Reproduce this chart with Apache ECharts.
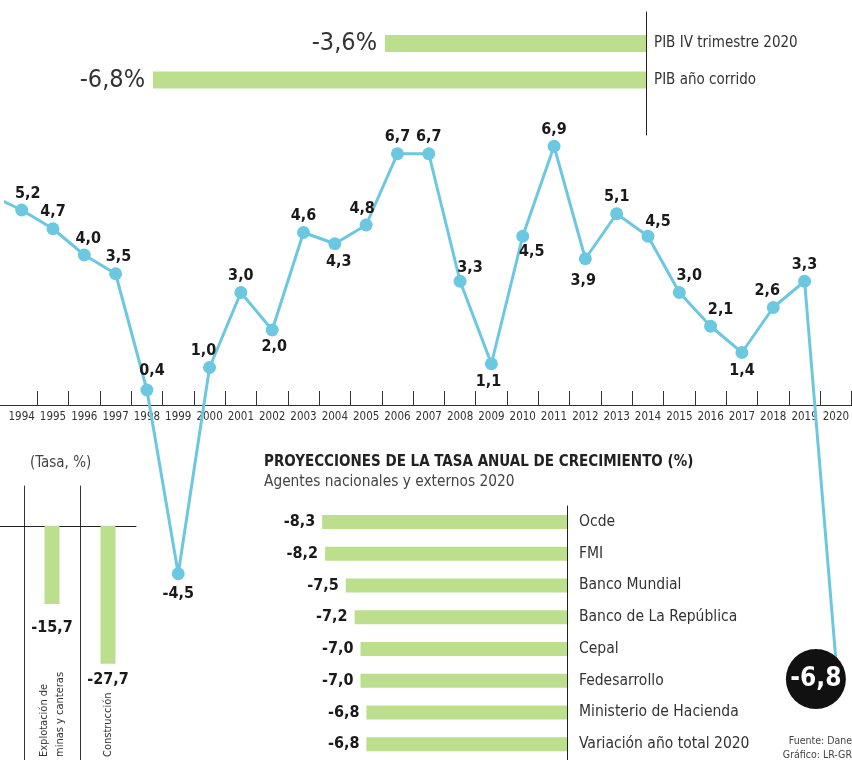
<!DOCTYPE html>
<html>
<head>
<meta charset="utf-8">
<script src="https://cdn.jsdelivr.net/npm/echarts@6/dist/echarts.min.js"></script>
<style>
  html, body { margin: 0; padding: 0; background: #fff; }
  #chart { width: 852px; height: 760px; }
</style>
</head>
<body>
<div id="chart"></div>
<script>
// Crecimiento anual del PIB (%); 1993 queda fuera del borde izquierdo
const years = ['1993', '1994', '1995', '1996', '1997', '1998', '1999', '2000', '2001', '2002',
  '2003', '2004', '2005', '2006', '2007', '2008', '2009', '2010', '2011', '2012', '2013',
  '2014', '2015', '2016', '2017', '2018', '2019', '2020'];
const gdpGrowth = [5.6, 5.2, 4.7, 4.0, 3.5, 0.4, -4.5, 1.0, 3.0, 2.0, 4.6, 4.3, 4.8, 6.7, 6.7,
  3.3, 1.1, 4.5, 6.9, 3.9, 5.1, 4.5, 3.0, 2.1, 1.4, 2.6, 3.3, -6.8];
const yearTicks = years.slice(1);

// PIB 2020
const pibNames = ['PIB IV trimestre 2020', 'PIB año corrido'];
const pibValues = [-3.6, -6.8];

// Proyecciones 2020
const agents = ['Ocde', 'FMI', 'Banco Mundial', 'Banco de La República', 'Cepal',
  'Fedesarrollo', 'Ministerio de Hacienda', 'Variación año total 2020'];
const projections = [-8.3, -8.2, -7.5, -7.2, -7.0, -7.0, -6.8, -6.8];

// Sectores (Tasa, %)
const sectors = ['Explotación de\nminas y canteras', 'Construcción'];
const sectorValues = [-15.7, -27.7];

const FONT = "'Liberation Sans Narrow', 'DejaVu Sans Condensed', sans-serif";
const LINE = '#6cc8e0';
const GREEN = '#bcdf8d';
const INK = '#1a1a1a';

const comma = v => v.toFixed(1).replace('.', ',');

// where each point's label sits: [position, dx, dy]
const labelPlace = {
  '1994': ['top', 6, 0], '1995': ['top', 0, 0], '1996': ['top', 4, 0], '1997': ['top', 3, 0],
  '1998': ['top', 5, -3], '1999': ['bottom', 0, 2], '2000': ['top', -6, 0], '2001': ['top', 0, 0],
  '2002': ['bottom', 2, -2], '2003': ['top', 0, 0], '2004': ['bottom', 4, 0], '2005': ['top', -4, 0],
  '2006': ['top', 0, 0], '2007': ['top', 0, 0], '2008': ['top', 10, 3], '2009': ['bottom', -3, 0],
  '2010': ['bottom', 9, -3], '2011': ['top', 0, 0], '2012': ['bottom', -2, 4], '2013': ['top', 0, 0],
  '2014': ['top', 10, 2], '2015': ['top', 10, 0], '2016': ['top', 10, 0], '2017': ['bottom', 0, 0],
  '2018': ['top', -6, 0], '2019': ['top', 0, 0]
};

const lineData = gdpGrowth.map((v, i) => {
  const y = years[i];
  const pt = [Number(y), v];
  if (y === '1993') {
    return { value: pt, symbolSize: 0, label: { show: false } };
  }
  if (y === '2020') {
    return {
      value: pt,
      symbolSize: 60,
      symbolOffset: [-20, 19],
      itemStyle: { color: '#111111' },
      label: { position: 'inside', color: '#ffffff', fontSize: 26, fontWeight: 'bold' }
    };
  }
  const p = labelPlace[y];
  return {
    value: pt,
    label: { position: p[0], offset: [p[1], p[2]], distance: p[0] === 'top' ? 2 : 4 }
  };
});

// gap between each sector bar and its value label
const sectorLabelGap = [16, 8];

const hiddenAxis = {
  axisLine: { show: false }, axisTick: { show: false }, axisLabel: { show: false }, splitLine: { show: false }
};

const chart = echarts.init(document.getElementById('chart'));

chart.setOption({
  animation: false,
  backgroundColor: '#ffffff',
  textStyle: { fontFamily: FONT },
  title: [
    {
      text: 'PROYECCIONES DE LA TASA ANUAL DE CRECIMIENTO (%)',
      subtext: 'Agentes nacionales y externos 2020',
      left: 264, top: 455, padding: 0, itemGap: 5,
      textStyle: { fontFamily: FONT, fontSize: 15, fontWeight: 'bold', color: '#222' },
      subtextStyle: { fontFamily: FONT, fontSize: 15.3, color: '#444' }
    },
    {
      text: '(Tasa, %)',
      left: 30, top: 456, padding: 0,
      textStyle: { fontFamily: FONT, fontSize: 15, fontWeight: 'normal', color: '#444' }
    },
    {
      text: 'Fuente: Dane',
      right: 0, top: 736, padding: 0,
      textStyle: { fontFamily: FONT, fontSize: 10.5, fontWeight: 'normal', color: '#444' }
    },
    {
      text: 'Gráfico: LR-GR',
      right: 0, top: 750, padding: 0,
      textStyle: { fontFamily: FONT, fontSize: 10.5, fontWeight: 'normal', color: '#444' }
    }
  ],
  grid: [
    { left: 6, width: 848, top: 105, height: 300 },                 // 0: serie del PIB (base en cero)
    { left: 66, right: 206, top: 25.25, height: 73 },                // 1: PIB 2020
    { left: 272, right: 285, top: 506, height: 254.4 },              // 2: proyecciones
    { left: 24, width: 112, top: 486, height: 274 },                 // 3: sectores
    { left: 646, width: 1, top: 12, height: 123 },                   // 4: regla vertical del PIB
    { left: 0, width: 24, top: 486, height: 274 },                   // 5: prolongación de la línea cero
    { left: 0, width: 6, top: 105, height: 300 }                     // 6: prolongación del eje de años
  ],
  xAxis: [
    {
      gridIndex: 0, type: 'category', data: yearTicks, boundaryGap: true, position: 'bottom',
      axisLine: { onZero: false, lineStyle: { color: '#333', width: 1.2 } },
      axisTick: { show: true, inside: true, length: 14, interval: i => i >= 1, lineStyle: { color: '#333' } },
      axisLabel: { interval: 0, fontSize: 11.5, color: '#333', margin: 6 },
      splitLine: { show: false }
    },
    Object.assign({ gridIndex: 0, type: 'value', min: 1993.5, max: 2020.5, position: 'top' }, hiddenAxis),
    Object.assign({ gridIndex: 1, type: 'value', min: -8, max: 0 }, hiddenAxis),
    Object.assign({ gridIndex: 2, type: 'value', min: -10, max: 0 }, hiddenAxis),
    {
      gridIndex: 3, type: 'category', data: sectors,
      axisLine: { onZero: true, lineStyle: { color: '#222', width: 1 } },
      axisTick: { show: false }, axisLabel: { show: false }, splitLine: { show: false }
    },
    {
      gridIndex: 3, type: 'category', data: sectors, position: 'bottom',
      axisLine: { show: false, onZero: false }, axisTick: { show: false },
      axisLabel: { inside: true, rotate: 90, margin: 3, fontSize: 11, lineHeight: 16, color: '#333' }
    },
    Object.assign({ gridIndex: 4, type: 'value', min: 0, max: 1 }, hiddenAxis),
    {
      gridIndex: 5, type: 'category', data: [''],
      axisLine: { onZero: true, lineStyle: { color: '#222', width: 1 } },
      axisTick: { show: false }, axisLabel: { show: false }, splitLine: { show: false }
    },
    {
      gridIndex: 6, type: 'category', data: [''], position: 'bottom',
      axisLine: { onZero: false, lineStyle: { color: '#333', width: 1.2 } },
      axisTick: { show: false }, axisLabel: { show: false }, splitLine: { show: false }
    }
  ],
  yAxis: [
    Object.assign({ gridIndex: 0, type: 'value', min: 0, max: 8 }, hiddenAxis),
    {
      gridIndex: 1, type: 'category', data: pibNames, inverse: true, position: 'right',
      axisLine: { show: false }, axisTick: { show: false },
      axisLabel: { margin: 8, fontSize: 15, color: '#333' }
    },
    {
      gridIndex: 2, type: 'category', data: agents, inverse: true, position: 'right',
      axisLine: { show: true, onZero: false, lineStyle: { color: '#222', width: 1 } },
      axisTick: { show: false },
      axisLabel: { margin: 12, fontSize: 15.5, color: '#333' }
    },
    {
      gridIndex: 3, type: 'value', min: -47, max: 8, position: 'left',
      axisLine: { show: true, onZero: false, lineStyle: { color: '#333', width: 1 } },
      axisTick: { show: false }, axisLabel: { show: false }, splitLine: { show: false }
    },
    {
      gridIndex: 3, type: 'value', min: -47, max: 8, position: 'right', offset: -56,
      axisLine: { show: true, onZero: false, lineStyle: { color: '#333', width: 1 } },
      axisTick: { show: false }, axisLabel: { show: false }, splitLine: { show: false }
    },
    {
      gridIndex: 4, type: 'value', min: 0, max: 1, position: 'left',
      axisLine: { show: true, onZero: false, lineStyle: { color: '#222', width: 1 } },
      axisTick: { show: false }, axisLabel: { show: false }, splitLine: { show: false }
    },
    Object.assign({ gridIndex: 5, type: 'value', min: -47, max: 8 }, hiddenAxis),
    Object.assign({ gridIndex: 6, type: 'value', min: 0, max: 8 }, hiddenAxis)
  ],
  series: [
    {
      name: 'PIB anual',
      type: 'line',
      xAxisIndex: 1, yAxisIndex: 0,
      data: lineData,
      clip: false,
      symbol: 'circle',
      symbolSize: 13,
      lineStyle: { color: LINE, width: 3 },
      itemStyle: { color: LINE },
      label: {
        show: true,
        formatter: p => comma(p.value[1]),
        fontSize: 16, fontWeight: 'bold', color: INK
      },
      z: 5
    },
    {
      name: 'PIB 2020',
      type: 'bar',
      xAxisIndex: 2, yAxisIndex: 1,
      data: pibValues,
      barWidth: 17,
      itemStyle: { color: GREEN },
      label: {
        show: true, position: 'left', distance: 8,
        formatter: p => comma(p.value) + '%',
        fontSize: 25, color: '#333'
      }
    },
    {
      name: 'Proyecciones',
      type: 'bar',
      xAxisIndex: 3, yAxisIndex: 2,
      data: projections,
      barWidth: 14,
      itemStyle: { color: GREEN },
      label: {
        show: true, position: 'left', distance: 7,
        formatter: p => comma(p.value),
        fontSize: 16, fontWeight: 'bold', color: INK
      }
    },
    {
      name: 'Sectores',
      type: 'bar',
      xAxisIndex: 4, yAxisIndex: 3,
      data: sectorValues.map((v, i) => ({ value: v, label: { distance: sectorLabelGap[i] } })),
      barWidth: 15,
      itemStyle: { color: GREEN },
      label: {
        show: true, position: 'bottom',
        formatter: p => comma(p.value),
        fontSize: 16, fontWeight: 'bold', color: INK
      }
    }
  ]
});
</script>
</body>
</html>
